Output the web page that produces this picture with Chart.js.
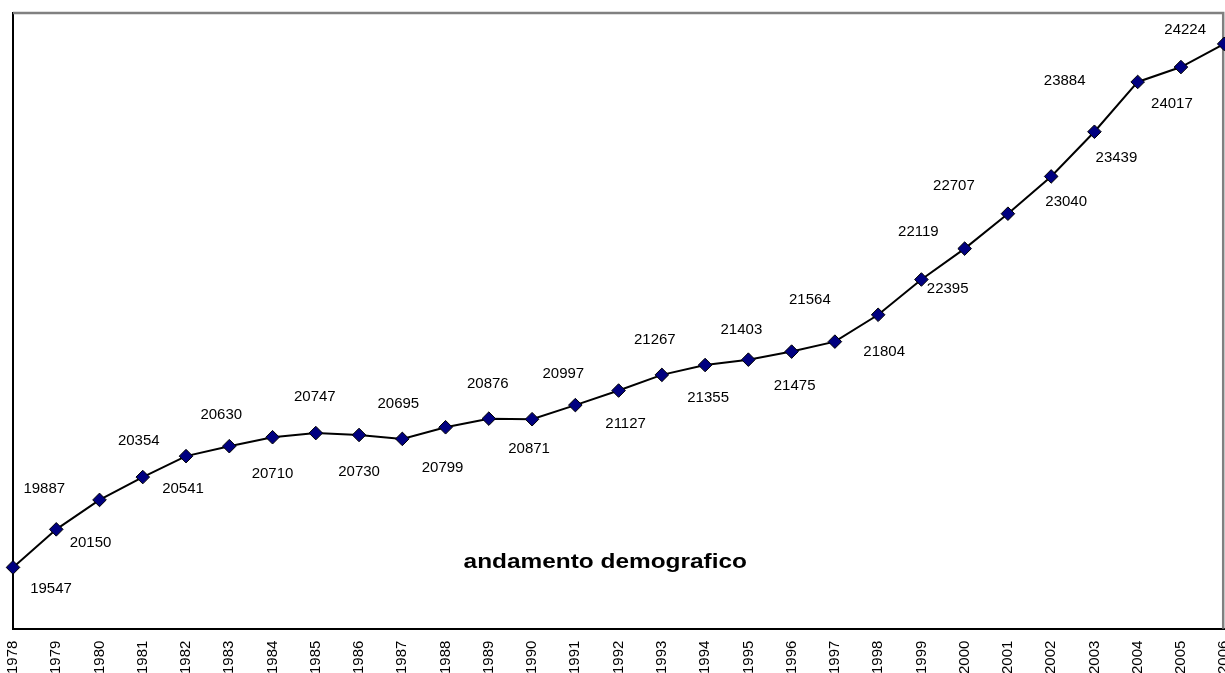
<!DOCTYPE html>
<html>
<head>
<meta charset="utf-8">
<title>andamento demografico</title>
<script src="https://cdn.jsdelivr.net/npm/chart.js@4/dist/chart.umd.min.js"></script>
<style>
    html, body { margin: 0; padding: 0; background: #fff; overflow: hidden; }
    /* a bit wider than the window so the last point sits on the right edge */
    #wrap { position: relative; width: 1232px; height: 673px; }
</style>
</head>
<body>
<div id="wrap"><canvas id="lineChart"></canvas></div>
<script>
// anni e popolazione residente
const years = ['1978', '1979', '1980', '1981', '1982', '1983', '1984', '1985', '1986', '1987',
    '1988', '1989', '1990', '1991', '1992', '1993', '1994', '1995', '1996', '1997',
    '1998', '1999', '2000', '2001', '2002', '2003', '2004', '2005', '2006'];
const population = [19547, 19887, 20150, 20354, 20541, 20630, 20710, 20747, 20730, 20695,
    20799, 20876, 20871, 20997, 21127, 21267, 21355, 21403, 21475, 21564,
    21804, 22119, 22395, 22707, 23040, 23439, 23884, 24017, 24224];
const chartTitle = 'andamento demografico';

// where each value label sits relative to its point (dx, dy in px)
const labelOffsets = [
    [38, 21], [-12, -40], [-9, 43], [-4, -36], [-3, 33], [-8, -31], [0, 37], [-1, -36], [0, 37], [-4, -35],
    [-3, 41], [-1, -35], [-3, 30], [-12, -31], [7, 33], [-7, -35], [3, 33], [-7, -30], [3, 34], [-25, -42],
    [6, 37], [-3, -48], [-17, 40], [-54, -28], [15, 25], [22, 26], [-73, -1], [-9, 37], [-39, -14]
];

const FONT = '"Liberation Sans", Arial, sans-serif';

const frame = {
    id: 'frame',
    beforeDatasetsDraw(chart) {
        const {ctx, chartArea: a} = chart;
        ctx.save();
        ctx.strokeStyle = '#808080';
        ctx.lineWidth = 2.5;
        ctx.beginPath();
        ctx.moveTo(a.left, a.top);
        ctx.lineTo(a.right - 1, a.top);
        ctx.lineTo(a.right - 1, a.bottom);
        ctx.stroke();
        ctx.restore();
    }
};

const valueLabels = {
    id: 'valueLabels',
    afterDatasetsDraw(chart) {
        const {ctx} = chart;
        const meta = chart.getDatasetMeta(0);
        ctx.save();
        ctx.font = '15px ' + FONT;
        ctx.fillStyle = '#000';
        ctx.textAlign = 'center';
        ctx.textBaseline = 'middle';
        meta.data.forEach((pt, i) => {
            const off = labelOffsets[i] || [0, -30];
            ctx.fillText(String(population[i]), pt.x + off[0], pt.y + off[1]);
        });
        ctx.restore();
    }
};

const innerTitle = {
    id: 'innerTitle',
    afterDraw(chart) {
        const {ctx, chartArea: a} = chart;
        const x = a.left + (a.right - a.left) * 0.489;
        const y = a.top + (a.bottom - a.top) * 0.893;
        ctx.save();
        ctx.translate(x, y);
        ctx.scale(1.22, 1);
        ctx.font = 'bold 20px ' + FONT;
        ctx.fillStyle = '#000';
        ctx.textAlign = 'center';
        ctx.textBaseline = 'middle';
        ctx.fillText(chartTitle, 0, 0);
        ctx.restore();
    }
};

const lineChart = document.getElementById('lineChart').getContext('2d');

new Chart(lineChart, {
    type: 'line',
    data: {
        labels: years,
        datasets: [{
            label: chartTitle,
            data: population,
            borderColor: '#000',
            borderWidth: 2,
            tension: 0,
            pointStyle: 'rectRot',
            pointRadius: 6.8,
            pointBackgroundColor: '#000080',
            pointBorderColor: '#000',
            pointBorderWidth: 1,
            clip: false
        }]
    },
    options: {
        responsive: true,
        maintainAspectRatio: false,
        animation: false,
        layout: {
            // labels run off the bottom and right edge, as in the original
            padding: { left: 13, top: 13, right: 0, bottom: -13 }
        },
        plugins: {
            legend: { display: false },
            tooltip: { enabled: false }
        },
        scales: {
            x: {
                offset: false,
                grid: { display: false, drawTicks: false },
                border: { display: true, color: '#000', width: 2 },
                ticks: {
                    autoSkip: false,
                    minRotation: 90,
                    maxRotation: 90,
                    padding: 12,
                    color: '#000',
                    font: { family: FONT, size: 15 }
                },
                afterFit(scale) {
                    scale.paddingLeft = 0;
                    scale.paddingRight = 0;
                }
            },
            y: {
                min: 19000,
                max: 24500,
                grid: { display: false, drawTicks: false },
                border: { display: true, color: '#000', width: 2 },
                ticks: { display: false }
            }
        }
    },
    plugins: [frame, valueLabels, innerTitle]
});
</script>
</body>
</html>
